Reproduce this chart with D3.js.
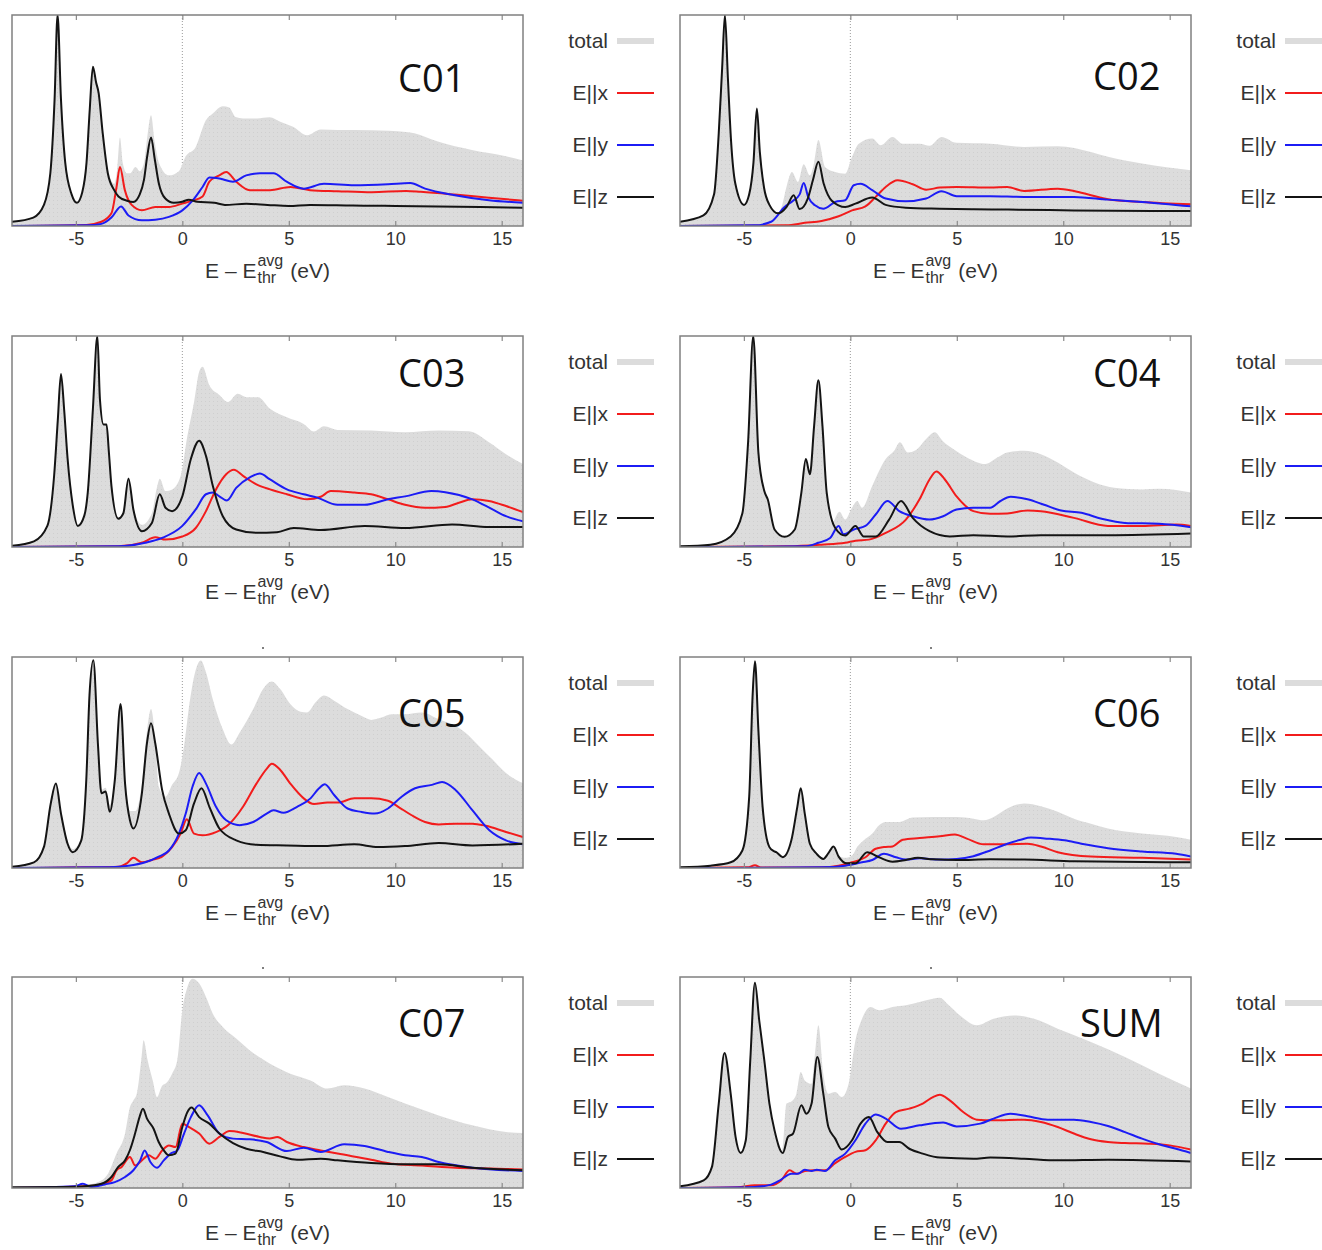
<!DOCTYPE html>
<html><head><meta charset="utf-8">
<script src="https://cdn.jsdelivr.net/npm/d3@7"></script>
<style>body{margin:0;background:#fff} svg{display:block}</style>
</head><body>
<svg id="chart" width="1322" height="1250"></svg>
<script>
// ---------- DATA: [energy (eV), relative intensity] ----------
const c01_total = [[-8,0.02],[-7,0.04],[-6.5,0.1],[-6.2,0.25],[-6.0,0.6],[-5.86,1.0],[-5.7,0.6],[-5.5,0.3],[-5.2,0.15],[-4.95,0.11],[-4.7,0.16],[-4.5,0.3],[-4.35,0.55],[-4.2,0.76],[-4.05,0.68],[-3.93,0.63],[-3.75,0.46],[-3.5,0.27],[-3.2,0.2],[-3.05,0.28],[-2.93,0.42],[-2.8,0.3],[-2.6,0.25],[-2.45,0.25],[-2.2,0.28],[-2.0,0.26],[-1.8,0.3],[-1.65,0.42],[-1.47,0.525],[-1.3,0.4],[-1.1,0.3],[-0.63,0.24],[-0.16,0.26],[0.16,0.33],[0.63,0.375],[1.1,0.5],[1.43,0.533],[1.9,0.568],[2.2,0.562],[2.5,0.517],[2.85,0.51],[3.5,0.51],[4.1,0.515],[4.6,0.494],[5.2,0.47],[5.86,0.43],[6.5,0.457],[7.3,0.455],[8.9,0.454],[10.5,0.446],[10.9,0.44],[12.0,0.4],[13.6,0.36],[15.2,0.33],[16,0.31]];
const c01_x = [[-8,0],[-4.5,0.005],[-3.8,0.02],[-3.33,0.06],[-3.09,0.185],[-2.93,0.28],[-2.7,0.17],[-2.38,0.1],[-1.9,0.075],[-1.27,0.09],[-0.63,0.09],[0,0.106],[0.48,0.12],[0.95,0.14],[1.27,0.21],[1.74,0.24],[2.06,0.256],[2.53,0.21],[3.17,0.17],[4.12,0.17],[5.07,0.185],[6.0,0.17],[7.3,0.165],[8.9,0.16],[10.5,0.166],[11.2,0.162],[12.8,0.149],[14.4,0.134],[16,0.12]];
const c01_y = [[-8,0],[-4.5,0.003],[-3.8,0.01],[-3.33,0.04],[-2.88,0.093],[-2.53,0.05],[-1.9,0.027],[-1.27,0.03],[-0.63,0.043],[0,0.074],[0.48,0.12],[0.95,0.185],[1.27,0.23],[1.74,0.225],[2.38,0.21],[3.0,0.24],[3.64,0.25],[4.28,0.25],[4.9,0.21],[5.7,0.177],[6.65,0.2],[8.08,0.193],[9.66,0.198],[10.7,0.204],[11.4,0.177],[12.8,0.146],[14.4,0.122],[16,0.11]];
const c01_z = [[-8,0.02],[-7,0.04],[-6.5,0.1],[-6.2,0.25],[-6.0,0.6],[-5.86,1.0],[-5.7,0.6],[-5.5,0.3],[-5.2,0.15],[-4.95,0.11],[-4.7,0.16],[-4.5,0.3],[-4.35,0.55],[-4.2,0.755],[-4.05,0.68],[-3.93,0.63],[-3.75,0.45],[-3.5,0.25],[-3.2,0.17],[-3.0,0.14],[-2.6,0.12],[-2.3,0.114],[-2.0,0.15],[-1.8,0.22],[-1.65,0.33],[-1.47,0.42],[-1.3,0.32],[-1.1,0.2],[-0.8,0.13],[-0.4,0.11],[0,0.115],[0.3,0.125],[0.7,0.115],[1.5,0.11],[2,0.1],[3,0.105],[4,0.1],[5,0.095],[6,0.1],[8,0.097],[10,0.095],[12,0.092],[14,0.09],[16,0.087]];

const c02_total = [[-8,0.02],[-6.9,0.05],[-6.4,0.15],[-6.18,0.44],[-6.02,0.75],[-5.89,1.0],[-5.75,0.7],[-5.6,0.4],[-5.4,0.2],[-4.99,0.1],[-4.75,0.15],[-4.55,0.3],[-4.39,0.557],[-4.25,0.35],[-4.05,0.18],[-3.8,0.1],[-3.4,0.065],[-3.2,0.1],[-3.0,0.185],[-2.74,0.256],[-2.46,0.209],[-2.19,0.293],[-1.9,0.24],[-1.7,0.3],[-1.5,0.407],[-1.19,0.28],[-0.71,0.256],[-0.24,0.248],[0.08,0.328],[0.4,0.39],[1.03,0.415],[1.43,0.383],[1.98,0.422],[2.46,0.39],[3.25,0.39],[3.72,0.38],[4.28,0.422],[4.99,0.394],[6.57,0.39],[8.16,0.375],[9.74,0.378],[11.3,0.351],[12.1,0.328],[13.7,0.296],[16,0.264]];
const c02_x = [[-8,0],[-3,0.003],[-2.14,0.015],[-1.35,0.024],[-0.55,0.046],[0.08,0.074],[0.71,0.093],[1.19,0.138],[1.66,0.185],[2.22,0.217],[2.93,0.198],[3.56,0.172],[4.2,0.182],[5.0,0.185],[6.57,0.182],[7.37,0.185],[8.16,0.166],[9.74,0.177],[10.5,0.166],[11.3,0.146],[12.1,0.127],[13.7,0.114],[16,0.103]];
const c02_y = [[-8,0],[-4.5,0.003],[-3.72,0.02],[-3.09,0.09],[-2.69,0.12],[-2.38,0.15],[-2.19,0.204],[-1.98,0.138],[-1.66,0.098],[-1.27,0.082],[-0.71,0.114],[-0.24,0.122],[0.16,0.193],[0.48,0.2],[1.03,0.17],[1.66,0.13],[2.6,0.117],[3.56,0.13],[4.28,0.165],[4.99,0.141],[6.57,0.141],[8.16,0.138],[10.5,0.138],[12.1,0.125],[13.7,0.114],[16,0.093]];
const c02_z = [[-8,0.02],[-6.9,0.05],[-6.4,0.15],[-6.18,0.44],[-6.02,0.75],[-5.89,1.0],[-5.75,0.7],[-5.6,0.4],[-5.4,0.2],[-4.99,0.1],[-4.75,0.15],[-4.55,0.3],[-4.39,0.557],[-4.25,0.35],[-4.05,0.18],[-3.8,0.1],[-3.4,0.06],[-3.0,0.09],[-2.66,0.146],[-2.38,0.08],[-2.0,0.13],[-1.75,0.22],[-1.5,0.304],[-1.25,0.2],[-0.87,0.12],[-0.24,0.09],[0.24,0.106],[1.03,0.135],[1.66,0.1],[2.6,0.087],[4.2,0.082],[5.8,0.079],[7.4,0.078],[10.5,0.074],[16,0.071]];

const c03_total = [[-8,0.006],[-6.97,0.027],[-6.34,0.1],[-6.02,0.34],[-5.85,0.6],[-5.7,0.82],[-5.55,0.65],[-5.39,0.42],[-5.15,0.2],[-4.91,0.1],[-4.6,0.15],[-4.44,0.26],[-4.2,0.655],[-3.99,1.0],[-3.87,0.7],[-3.7,0.58],[-3.56,0.58],[-3.45,0.45],[-3.33,0.29],[-3.01,0.14],[-2.77,0.17],[-2.53,0.33],[-2.3,0.19],[-1.9,0.105],[-1.43,0.16],[-1.2,0.28],[-1.06,0.324],[-0.79,0.265],[-0.48,0.273],[-0.08,0.337],[0.24,0.528],[0.55,0.687],[0.79,0.83],[0.95,0.854],[1.27,0.766],[1.74,0.72],[2.14,0.687],[2.61,0.726],[3.0,0.71],[3.56,0.71],[4.12,0.655],[4.91,0.615],[5.7,0.583],[6.18,0.547],[6.65,0.572],[7.29,0.555],[8.87,0.552],[10.46,0.544],[12.04,0.552],[13.46,0.548],[14.4,0.496],[15.2,0.44],[16,0.393]];
const c03_x = [[-8,0],[-3,0.003],[-1.9,0.02],[-1.27,0.046],[-0.79,0.035],[0,0.05],[0.63,0.09],[1.11,0.17],[1.58,0.273],[2.06,0.345],[2.42,0.366],[2.85,0.337],[3.48,0.297],[4.12,0.273],[4.91,0.25],[5.86,0.226],[6.5,0.238],[6.97,0.265],[8.08,0.258],[8.87,0.25],[9.66,0.226],[10.46,0.2],[11.4,0.186],[12.35,0.19],[12.99,0.21],[13.62,0.226],[14.4,0.218],[15.2,0.194],[16,0.165]];
const c03_y = [[-8,0],[-3,0.003],[-1.74,0.02],[-0.95,0.043],[0,0.1],[0.63,0.178],[1.11,0.25],[1.43,0.258],[1.74,0.24],[2.09,0.22],[2.53,0.28],[3.17,0.33],[3.64,0.348],[4.12,0.32],[4.91,0.273],[5.7,0.25],[6.34,0.234],[7.29,0.2],[8.56,0.2],[9.66,0.226],[10.46,0.24],[11.7,0.265],[12.35,0.26],[13.62,0.226],[14.57,0.178],[15.2,0.146],[16,0.122]];
const c03_z = [[-8,0.006],[-6.97,0.027],[-6.34,0.1],[-6.02,0.34],[-5.85,0.6],[-5.7,0.82],[-5.55,0.65],[-5.39,0.42],[-5.15,0.2],[-4.91,0.1],[-4.6,0.15],[-4.44,0.26],[-4.2,0.655],[-3.99,1.0],[-3.87,0.7],[-3.7,0.58],[-3.56,0.58],[-3.45,0.45],[-3.33,0.29],[-3.01,0.134],[-2.77,0.16],[-2.53,0.324],[-2.3,0.178],[-1.9,0.075],[-1.43,0.114],[-1.06,0.25],[-0.79,0.186],[-0.48,0.17],[0,0.24],[0.4,0.417],[0.79,0.504],[1.11,0.432],[1.43,0.29],[1.9,0.146],[2.53,0.083],[3.48,0.067],[4.44,0.07],[5.23,0.09],[6.5,0.08],[8.56,0.099],[10.46,0.09],[12.67,0.107],[14.4,0.095],[16,0.095]];

const c04_total = [[-8,0.003],[-6.57,0.011],[-5.62,0.05],[-5.07,0.16],[-4.8,0.5],[-4.56,1.0],[-4.32,0.45],[-4.04,0.27],[-3.88,0.23],[-3.56,0.085],[-3.09,0.05],[-2.61,0.085],[-2.3,0.26],[-2.09,0.42],[-1.9,0.35],[-1.7,0.58],[-1.5,0.79],[-1.31,0.58],[-1.11,0.26],[-0.87,0.114],[-0.51,0.167],[-0.24,0.13],[0.08,0.186],[0.32,0.218],[0.55,0.186],[1.03,0.29],[1.66,0.417],[2.06,0.456],[2.33,0.496],[2.69,0.448],[3.09,0.46],[3.56,0.512],[3.96,0.544],[4.36,0.5],[4.83,0.464],[5.47,0.424],[6.34,0.393],[6.9,0.424],[7.37,0.448],[8.16,0.456],[8.95,0.44],[9.74,0.4],[10.5,0.353],[11.5,0.305],[12.4,0.281],[13.7,0.273],[14.5,0.276],[15.3,0.27],[16,0.258]];
const c04_x = [[-8,0],[-2.93,0.003],[-1.35,0.011],[-0.24,0.02],[0.24,0.03],[0.87,0.035],[1.66,0.067],[2.61,0.13],[3.25,0.226],[3.72,0.32],[4.04,0.358],[4.44,0.32],[4.99,0.24],[5.78,0.17],[6.57,0.157],[7.37,0.159],[8.32,0.173],[8.95,0.17],[10.5,0.138],[12.1,0.1],[13.7,0.1],[15.3,0.107],[16,0.1]];
const c04_y = [[-8,0],[-2.14,0.003],[-1.5,0.02],[-0.95,0.043],[-0.55,0.1],[-0.32,0.06],[0.16,0.083],[0.71,0.1],[1.19,0.154],[1.74,0.218],[2.3,0.17],[2.93,0.146],[3.72,0.13],[4.36,0.146],[4.99,0.178],[5.78,0.186],[6.57,0.186],[7.05,0.218],[7.53,0.238],[8.32,0.226],[9.1,0.2],[9.9,0.173],[10.85,0.162],[11.8,0.134],[12.9,0.114],[14.5,0.11],[16,0.094]];
const c04_z = [[-8,0.003],[-6.57,0.011],[-5.62,0.05],[-5.07,0.16],[-4.8,0.5],[-4.56,1.0],[-4.32,0.45],[-4.04,0.265],[-3.88,0.226],[-3.56,0.083],[-3.09,0.048],[-2.61,0.083],[-2.3,0.258],[-2.09,0.417],[-1.9,0.345],[-1.7,0.575],[-1.5,0.79],[-1.31,0.575],[-1.11,0.258],[-0.71,0.09],[-0.24,0.054],[0.24,0.1],[0.63,0.05],[1.19,0.05],[1.82,0.13],[2.38,0.218],[2.93,0.138],[3.72,0.075],[4.67,0.05],[5.78,0.056],[7.37,0.05],[8.95,0.056],[12.1,0.056],[16,0.064]];

const c05_total = [[-8,0.006],[-6.97,0.027],[-6.5,0.1],[-6.18,0.306],[-5.94,0.405],[-5.7,0.27],[-5.39,0.13],[-5.15,0.09],[-4.75,0.14],[-4.51,0.42],[-4.36,0.82],[-4.18,0.985],[-3.96,0.6],[-3.8,0.37],[-3.6,0.38],[-3.41,0.3],[-3.17,0.43],[-2.9,0.777],[-2.69,0.42],[-2.46,0.27],[-2.2,0.27],[-1.9,0.4],[-1.66,0.65],[-1.47,0.753],[-1.27,0.6],[-1.11,0.386],[-0.79,0.338],[-0.48,0.394],[-0.16,0.45],[0.08,0.577],[0.32,0.769],[0.6,0.928],[0.87,0.984],[1.11,0.928],[1.43,0.8],[1.9,0.657],[2.3,0.585],[2.69,0.641],[3.33,0.753],[3.8,0.849],[4.2,0.884],[4.59,0.849],[5.07,0.777],[5.55,0.74],[5.86,0.737],[6.26,0.785],[6.65,0.817],[7.13,0.793],[7.76,0.753],[8.4,0.721],[8.87,0.702],[9.35,0.713],[9.82,0.729],[10.46,0.729],[11.25,0.737],[12.04,0.705],[12.83,0.673],[13.3,0.641],[13.94,0.577],[14.57,0.514],[15.2,0.45],[16,0.402]];
const c05_x = [[-8,0],[-4.6,0.003],[-3.0,0.006],[-2.61,0.022],[-2.3,0.048],[-1.9,0.027],[-1.43,0.038],[-0.95,0.054],[-0.48,0.099],[-0.08,0.163],[0.21,0.231],[0.55,0.163],[0.95,0.155],[1.58,0.17],[2.22,0.21],[2.85,0.29],[3.48,0.4],[3.96,0.47],[4.2,0.494],[4.59,0.466],[5.07,0.4],[5.7,0.33],[6.18,0.303],[6.81,0.31],[7.29,0.31],[8.08,0.33],[8.87,0.33],[9.66,0.319],[10.14,0.29],[10.77,0.25],[11.4,0.218],[12.04,0.206],[12.83,0.21],[13.62,0.21],[14.25,0.2],[15.2,0.171],[16,0.147]];
const c05_y = [[-8,0],[-3.8,0.003],[-2.53,0.011],[-1.74,0.027],[-1.11,0.054],[-0.63,0.083],[-0.16,0.163],[0.16,0.258],[0.48,0.386],[0.79,0.45],[1.11,0.4],[1.58,0.29],[2.06,0.226],[2.69,0.203],[3.33,0.218],[3.96,0.258],[4.28,0.274],[4.75,0.262],[5.39,0.29],[6.02,0.33],[6.42,0.378],[6.69,0.397],[7.13,0.346],[7.76,0.282],[8.4,0.266],[9.03,0.258],[9.66,0.282],[10.3,0.338],[10.93,0.378],[11.72,0.394],[12.2,0.407],[12.83,0.37],[13.62,0.274],[14.42,0.179],[15.2,0.131],[16,0.112]];
const c05_z = [[-8,0.006],[-6.97,0.027],[-6.5,0.1],[-6.18,0.306],[-5.94,0.4],[-5.7,0.258],[-5.39,0.115],[-5.15,0.075],[-4.75,0.13],[-4.51,0.42],[-4.36,0.82],[-4.18,0.985],[-3.96,0.58],[-3.8,0.354],[-3.6,0.362],[-3.41,0.266],[-3.17,0.418],[-2.9,0.777],[-2.69,0.4],[-2.46,0.226],[-2.3,0.187],[-1.9,0.354],[-1.66,0.593],[-1.47,0.686],[-1.27,0.59],[-0.95,0.37],[-0.63,0.258],[-0.16,0.163],[0.16,0.179],[0.55,0.306],[0.9,0.378],[1.27,0.29],[1.74,0.187],[2.53,0.131],[3.48,0.11],[4.91,0.107],[6.5,0.104],[8.08,0.112],[9.19,0.099],[10.46,0.104],[12.04,0.118],[13.62,0.107],[16,0.115]];

const c06_total = [[-8,0.003],[-6.57,0.011],[-5.62,0.027],[-5.07,0.083],[-4.75,0.338],[-4.59,0.817],[-4.48,0.98],[-4.32,0.657],[-4.12,0.29],[-3.8,0.1],[-3.48,0.08],[-3.17,0.055],[-2.77,0.131],[-2.49,0.29],[-2.33,0.378],[-2.14,0.258],[-1.9,0.115],[-1.58,0.07],[-1.27,0.045],[-1.03,0.07],[-0.79,0.102],[-0.55,0.059],[-0.24,0.048],[0.08,0.059],[0.32,0.099],[0.63,0.131],[1.03,0.163],[1.35,0.203],[1.66,0.218],[2.3,0.218],[2.93,0.239],[3.88,0.242],[4.99,0.242],[5.78,0.234],[6.26,0.226],[6.73,0.242],[7.37,0.282],[8.16,0.306],[8.95,0.293],[9.74,0.266],[10.5,0.234],[11.3,0.21],[12.1,0.187],[13.7,0.163],[15.3,0.147],[16,0.134]];
const c06_x = [[-8,0],[-4.83,0.003],[-4.48,0.013],[-4.2,0.002],[-1.35,0.003],[-0.55,0.011],[0.08,0.027],[0.71,0.051],[1.19,0.091],[1.58,0.099],[1.98,0.102],[2.46,0.134],[3.25,0.142],[4.2,0.15],[4.91,0.159],[5.47,0.139],[6.26,0.112],[7.37,0.112],[8.32,0.115],[8.95,0.102],[9.74,0.075],[11.3,0.054],[13.7,0.048],[16,0.04]];
const c06_y = [[-8,0],[-1.35,0.003],[-0.24,0.011],[0.55,0.027],[1.03,0.038],[1.58,0.067],[2.14,0.051],[2.61,0.04],[3.25,0.046],[4.2,0.04],[4.99,0.043],[5.78,0.056],[6.57,0.083],[7.37,0.115],[8.0,0.134],[8.48,0.144],[9.27,0.139],[10.06,0.131],[10.85,0.115],[12.1,0.094],[13.7,0.078],[15.3,0.067],[16,0.054]];
const c06_z = [[-8,0.003],[-6.57,0.011],[-5.62,0.027],[-5.07,0.083],[-4.75,0.338],[-4.59,0.817],[-4.48,0.98],[-4.32,0.657],[-4.12,0.29],[-3.8,0.099],[-3.6,0.08],[-3.48,0.075],[-3.17,0.051],[-2.77,0.131],[-2.49,0.29],[-2.33,0.378],[-2.14,0.258],[-1.9,0.115],[-1.58,0.067],[-1.27,0.043],[-1.03,0.07],[-0.79,0.102],[-0.55,0.054],[-0.16,0.022],[0.24,0.022],[0.79,0.075],[1.35,0.051],[1.98,0.03],[2.61,0.038],[3.17,0.048],[3.88,0.041],[4.99,0.038],[6.57,0.041],[8.16,0.04],[10.5,0.032],[16,0.027]];

const c07_total = [[-8,0.002],[-5.39,0.005],[-4.59,0.013],[-3.8,0.036],[-3.49,0.068],[-3.09,0.163],[-2.69,0.258],[-2.46,0.384],[-2.3,0.415],[-2.14,0.447],[-1.93,0.605],[-1.82,0.7],[-1.63,0.605],[-1.39,0.51],[-1.19,0.431],[-0.98,0.479],[-0.71,0.502],[-0.48,0.542],[-0.24,0.605],[0,0.842],[0.24,0.953],[0.48,0.992],[0.79,0.97],[1.11,0.905],[1.43,0.826],[1.9,0.763],[2.53,0.708],[3.17,0.652],[4.12,0.589],[5.07,0.542],[6.02,0.51],[6.81,0.471],[7.6,0.487],[8.56,0.471],[9.66,0.431],[10.46,0.4],[12.04,0.344],[13.62,0.297],[15.2,0.265],[16,0.261]];
const c07_x = [[-8,0],[-4.59,0.008],[-3.8,0.017],[-3.33,0.036],[-3.09,0.084],[-2.85,0.1],[-2.46,0.147],[-2.22,0.107],[-1.9,0.131],[-1.58,0.155],[-1.27,0.139],[-0.95,0.178],[-0.63,0.202],[-0.32,0.194],[0,0.305],[0.32,0.289],[0.79,0.258],[1.27,0.21],[1.74,0.242],[2.22,0.27],[2.85,0.261],[3.64,0.242],[4.1,0.235],[4.47,0.242],[4.91,0.218],[5.7,0.194],[6.5,0.178],[7.29,0.163],[8.87,0.134],[9.82,0.115],[11.25,0.107],[12.83,0.096],[14.42,0.092],[16,0.088]];
const c07_y = [[-8,0],[-5.07,0.008],[-4.67,0.02],[-4.28,0.005],[-3.64,0.017],[-3.17,0.028],[-2.69,0.052],[-2.3,0.084],[-1.98,0.131],[-1.77,0.178],[-1.5,0.123],[-1.19,0.096],[-0.87,0.131],[-0.55,0.163],[-0.24,0.178],[0.08,0.258],[0.4,0.336],[0.79,0.392],[1.19,0.344],[1.74,0.258],[2.38,0.234],[3.17,0.231],[3.96,0.218],[4.91,0.175],[5.7,0.191],[6.5,0.171],[7.6,0.207],[8.56,0.199],[9.66,0.171],[10.46,0.155],[11.25,0.147],[12.04,0.123],[13.62,0.096],[16,0.081]];
const c07_z = [[-8,0.003],[-5.39,0.005],[-4.59,0.008],[-3.8,0.02],[-3.33,0.052],[-3.01,0.1],[-2.69,0.131],[-2.46,0.18],[-2.22,0.258],[-2.01,0.336],[-1.85,0.376],[-1.66,0.329],[-1.35,0.281],[-1.11,0.218],[-0.87,0.178],[-0.63,0.155],[-0.32,0.163],[0,0.289],[0.24,0.36],[0.43,0.381],[0.79,0.336],[1.27,0.305],[1.74,0.258],[2.38,0.213],[3.01,0.186],[3.8,0.171],[4.59,0.15],[5.39,0.134],[6.5,0.139],[7.29,0.131],[8.87,0.118],[10.46,0.112],[12.04,0.112],[13.62,0.096],[16,0.084]];

const sum_total = [[-8,0.008],[-6.89,0.036],[-6.5,0.1],[-6.18,0.4],[-5.91,0.645],[-5.62,0.45],[-5.39,0.25],[-5.15,0.17],[-4.91,0.23],[-4.7,0.61],[-4.48,0.975],[-4.28,0.8],[-4.04,0.61],[-3.8,0.41],[-3.56,0.28],[-3.2,0.178],[-3.0,0.4],[-2.77,0.41],[-2.53,0.447],[-2.33,0.55],[-2.14,0.51],[-1.82,0.494],[-1.63,0.668],[-1.5,0.771],[-1.27,0.542],[-1.03,0.447],[-0.71,0.455],[-0.4,0.431],[-0.08,0.494],[0.24,0.7],[0.55,0.802],[0.95,0.858],[1.35,0.842],[1.98,0.858],[2.61,0.866],[3.25,0.882],[3.88,0.897],[4.2,0.902],[4.59,0.87],[5.15,0.818],[5.94,0.771],[6.73,0.802],[7.68,0.818],[8.63,0.802],[9.74,0.755],[11.3,0.692],[12.9,0.621],[14.5,0.542],[16,0.471]];
const sum_x = [[-8,0],[-5.3,0.003],[-4.5,0.013],[-3.72,0.013],[-3.25,0.036],[-2.85,0.084],[-2.53,0.068],[-2.14,0.08],[-1.74,0.084],[-1.19,0.084],[-0.71,0.118],[-0.24,0.147],[0.24,0.171],[0.71,0.179],[1.19,0.226],[1.66,0.305],[2.14,0.36],[2.77,0.376],[3.4,0.4],[3.88,0.431],[4.2,0.442],[4.67,0.415],[5.3,0.36],[5.94,0.324],[6.73,0.321],[8.16,0.324],[8.95,0.313],[9.74,0.289],[10.5,0.258],[11.3,0.231],[12.1,0.218],[12.9,0.213],[14.0,0.21],[15.0,0.202],[16,0.182]];
const sum_y = [[-8,0],[-4.5,0.005],[-3.72,0.016],[-3.25,0.04],[-2.77,0.068],[-2.46,0.068],[-2.14,0.087],[-1.82,0.08],[-1.58,0.087],[-1.19,0.08],[-0.71,0.131],[-0.24,0.163],[0.24,0.226],[0.71,0.305],[1.19,0.348],[1.66,0.329],[2.38,0.281],[3.25,0.297],[4.36,0.31],[4.99,0.292],[6.1,0.305],[6.73,0.329],[7.52,0.352],[8.32,0.34],[9.27,0.324],[10.5,0.324],[11.3,0.313],[12.1,0.294],[12.9,0.265],[13.7,0.234],[14.5,0.207],[15.3,0.186],[16,0.166]];
const sum_z = [[-8,0.008],[-6.89,0.036],[-6.5,0.1],[-6.18,0.4],[-5.91,0.64],[-5.62,0.447],[-5.39,0.242],[-5.15,0.166],[-4.91,0.226],[-4.7,0.605],[-4.48,0.973],[-4.28,0.795],[-4.04,0.605],[-3.8,0.4],[-3.56,0.273],[-3.17,0.166],[-2.93,0.242],[-2.69,0.258],[-2.3,0.392],[-2.06,0.352],[-1.82,0.4],[-1.55,0.621],[-1.27,0.447],[-1.03,0.289],[-0.71,0.234],[-0.4,0.182],[0.08,0.226],[0.48,0.305],[0.87,0.336],[1.27,0.265],[1.74,0.218],[2.3,0.218],[2.77,0.186],[3.4,0.163],[4.2,0.144],[5.78,0.139],[6.57,0.144],[8.16,0.139],[9.74,0.131],[12.1,0.134],[16,0.126]];

const panelNames = ["C01","C02","C03","C04","C05","C06","C07","SUM"];
const xTicks = [-5,0,5,10,15];
const legendLabels = ["total","E||x","E||y","E||z"];

const panels = [
  {name:panelNames[0], total:c01_total, x:c01_x, y:c01_y, z:c01_z},
  {name:panelNames[1], total:c02_total, x:c02_x, y:c02_y, z:c02_z},
  {name:panelNames[2], total:c03_total, x:c03_x, y:c03_y, z:c03_z},
  {name:panelNames[3], total:c04_total, x:c04_x, y:c04_y, z:c04_z},
  {name:panelNames[4], total:c05_total, x:c05_x, y:c05_y, z:c05_z},
  {name:panelNames[5], total:c06_total, x:c06_x, y:c06_y, z:c06_z},
  {name:panelNames[6], total:c07_total, x:c07_x, y:c07_y, z:c07_z},
  {name:panelNames[7], total:sum_total, x:sum_x, y:sum_y, z:sum_z}
];

// ---------- LAYOUT ----------
const colLeft = [12, 680], rowTop = [15, 336, 657, 977];
const PW = 511, PH = 211;
const labelPos = [[386,77],[413,75],[386,51],[413,51],[386,70],[413,70],[386,60],[400,60]];
const FONT = "'Liberation Sans', Arial, Helvetica, sans-serif";
const colors = {x:"#f21c1c", y:"#1c1cf5", z:"#141414", total:"#dadada"};

const svg = d3.select("#chart");
const defs = svg.append("defs");
const pat = defs.append("pattern").attr("id","dots").attr("width",4).attr("height",4).attr("patternUnits","userSpaceOnUse");
pat.append("rect").attr("width",4).attr("height",4).attr("fill","#dcdcdc");
pat.append("rect").attr("x",1).attr("y",1).attr("width",1).attr("height",1).attr("fill","#cfcfcf");

const xs = d3.scaleLinear().domain([-8,16]).range([0,PW]);
const ys = d3.scaleLinear().domain([0,1]).range([PH,0]);
const line = d3.line().x(d=>xs(d[0])).y(d=>ys(d[1])).curve(d3.curveMonotoneX);
const area = d3.area().x(d=>xs(d[0])).y0(ys(0)).y1(d=>ys(d[1])).curve(d3.curveMonotoneX);

panels.forEach((p,i)=>{
  const col = i%2, row = Math.floor(i/2);
  const g = svg.append("g").attr("transform",`translate(${colLeft[col]},${rowTop[row]})`);
  const cid = "clip"+i;
  defs.append("clipPath").attr("id",cid).append("rect").attr("width",PW).attr("height",PH);
  const plot = g.append("g").attr("clip-path",`url(#${cid})`);
  plot.append("line").attr("x1",xs(0)).attr("x2",xs(0)).attr("y1",0).attr("y2",PH)
      .attr("stroke","#9a9a9a").attr("stroke-width",1).attr("stroke-dasharray","1,2");
  plot.append("path").datum(p.total).attr("d",area).attr("fill","url(#dots)");
  [["x",p.x],["y",p.y],["z",p.z]].forEach(([k,d])=>{
    plot.append("path").datum(d).attr("d",line).attr("fill","none")
      .attr("stroke",colors[k]).attr("stroke-width",2).attr("stroke-linejoin","round");
  });

  // axes
  const ab = g.append("g").attr("transform",`translate(0,${PH})`)
    .call(d3.axisBottom(xs).tickValues(xTicks).tickSize(-5).tickPadding(6).tickFormat(d=>String(d)));
  const at = g.append("g")
    .call(d3.axisTop(xs).tickValues(xTicks).tickSize(-5).tickFormat(""));
  [ab,at].forEach(a=>{ a.select(".domain").remove(); a.selectAll("line").attr("stroke","#8a8a8a").attr("stroke-width",1.2); });
  ab.selectAll("text").attr("font-family",FONT).attr("font-size",18).attr("fill","#333");

  g.append("rect").attr("width",PW).attr("height",PH).attr("fill","none")
    .attr("stroke","#808080").attr("stroke-width",1.5);

  // axis title  E – E_thr^avg (eV)
  const tg = g.append("g").attr("font-family",FONT).attr("fill","#333");
  const t1 = tg.append("text").attr("y",PH+52).attr("font-size",21).text("E – E");
  const ta = tg.append("text").attr("y",PH+40).attr("font-size",16).text("avg");
  const tt = tg.append("text").attr("y",PH+57).attr("font-size",16).text("thr");
  const t2 = tg.append("text").attr("y",PH+52).attr("font-size",21).text("(eV)");
  const w1 = t1.node().getComputedTextLength(), wa = ta.node().getComputedTextLength(),
        wt = tt.node().getComputedTextLength(), w2 = t2.node().getComputedTextLength();
  const ws = Math.max(wa,wt), gap = 7;
  const x0 = PW/2 - (w1 + 1 + ws + gap + w2)/2;
  t1.attr("x",x0); ta.attr("x",x0+w1+1); tt.attr("x",x0+w1+1); t2.attr("x",x0+w1+1+ws+gap);

  // panel label
  g.append("text").attr("x",labelPos[i][0]).attr("y",labelPos[i][1])
    .attr("font-family","'Open Sans', 'Noto Sans', sans-serif").attr("font-size",38)
    .attr("fill","#111").text(p.name);

  // legend
  const keys = ["total","x","y","z"];
  legendLabels.forEach((lab,k)=>{
    const ly = 26 + 52*k;
    g.append("text").attr("x",596).attr("y",ly+7).attr("text-anchor","end")
      .attr("font-family",FONT).attr("font-size",21).attr("fill","#333").text(lab);
    g.append("line").attr("x1",605).attr("x2",642).attr("y1",ly).attr("y2",ly)
      .attr("stroke", keys[k]==="total" ? "#dcdcdc" : colors[keys[k]])
      .attr("stroke-width", keys[k]==="total" ? 6 : 2);
  });

  // tiny marks above lower panels (as in source image)
  if (row >= 2) g.append("circle").attr("cx",251).attr("cy",-9).attr("r",1).attr("fill","#555");
});
</script>
</body></html>
